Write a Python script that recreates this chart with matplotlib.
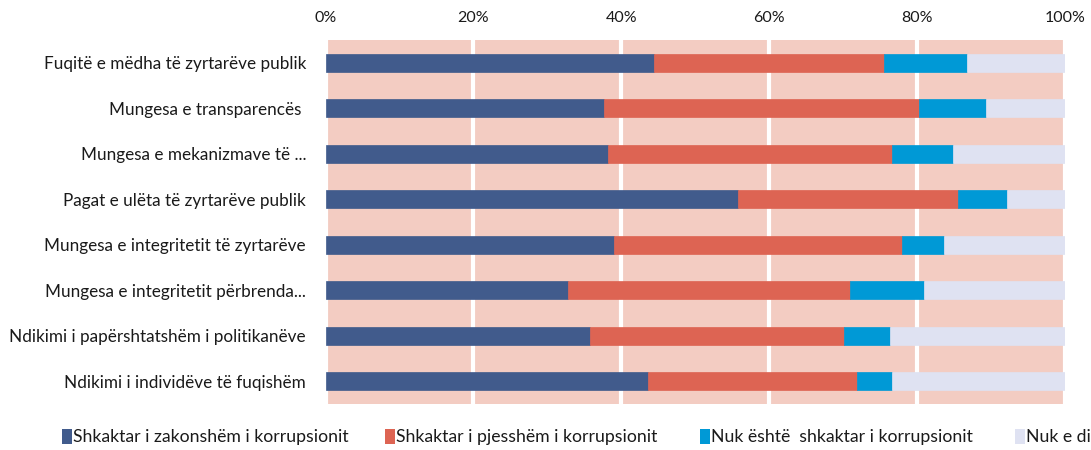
import matplotlib
matplotlib.use("Agg")
import matplotlib.pyplot as plt
from matplotlib.patches import Rectangle
import numpy as np

categories = [
    "Fuqitë e mëdha të zyrtarëve publik",
    "Mungesa e transparencës ",
    "Mungesa e mekanizmave të ...",
    "Pagat e ulëta të zyrtarëve publik",
    "Mungesa e integritetit të zyrtarëve",
    "Mungesa e integritetit përbrenda...",
    "Ndikimi i papërshtatshëm i politikanëve",
    "Ndikimi i individëve të fuqishëm",
]
series_names = [
    "Shkaktar i zakonshëm i korrupsionit",
    "Shkaktar i pjesshëm i korrupsionit",
    "Nuk është  shkaktar i korrupsionit",
    "Nuk e di",
]
zakonshem = [44.4, 37.7, 38.2, 55.8, 39.0, 32.8, 35.7, 43.6]
pjesshem = [31.1, 42.6, 38.4, 29.7, 38.9, 38.1, 34.4, 28.3]
nuk_eshte = [11.3, 9.0, 8.3, 6.7, 5.7, 10.0, 6.3, 4.7]
nuk_di = [13.2, 10.7, 15.1, 7.8, 16.4, 19.1, 23.6, 23.4]
xticks = [0, 20, 40, 60, 80, 100]
xtick_labels = ["0%", "20%", "40%", "60%", "80%", "100%"]

colors = ["#415B8C", "#DD6453", "#0099D6", "#DFE2F2"]
bg = "#F3CCC2"

plt.rcParams['font.family'] = ['Lato', 'DejaVu Sans']

fig = plt.figure(figsize=(10.91, 4.50), dpi=100)
ax = fig.add_axes([325.5/1091, 1-404/450, (1065-325.5)/1091, (404-40)/450])
ax.set_facecolor(bg)

y = np.arange(len(categories))
data = [zakonshem, pjesshem, nuk_eshte, nuk_di]
left = np.zeros(len(categories))
for vals, c in zip(data, colors):
    ax.barh(y, vals, left=left, height=0.4, color=c, zorder=3,
            edgecolor=c, linewidth=0.5)
    left += np.array(vals)

ax.set_xlim(0, 100)
ax.set_ylim(len(categories)-0.5, -0.5)
ax.set_yticks(y)
ax.set_yticklabels(categories, fontsize=12.3, color="#1a1a1a")
ax.set_xticks(xticks)
ax.set_xticklabels(xtick_labels, fontsize=11.5, color="#1a1a1a")
ax.xaxis.tick_top()
ax.tick_params(axis='x', length=0, pad=11)
ax.tick_params(axis='y', length=0, pad=14)
ax.grid(axis='x', color='white', linewidth=3, zorder=1)
ax.set_axisbelow(True)
for s in ax.spines.values():
    s.set_visible(False)

leg_x = [62, 385, 700, 1015]
for xpx, name, c in zip(leg_x, series_names, colors):
    fig.patches.append(Rectangle((xpx/1091, 1-444/450), 10/1091, 15/450,
                                 transform=fig.transFigure, facecolor=c,
                                 edgecolor='none'))
    fig.text((xpx+11)/1091, 1-437/450, name, fontsize=12.7, va='center',
             ha='left', color="#1a1a1a")

fig.savefig("out.png", dpi=100)
